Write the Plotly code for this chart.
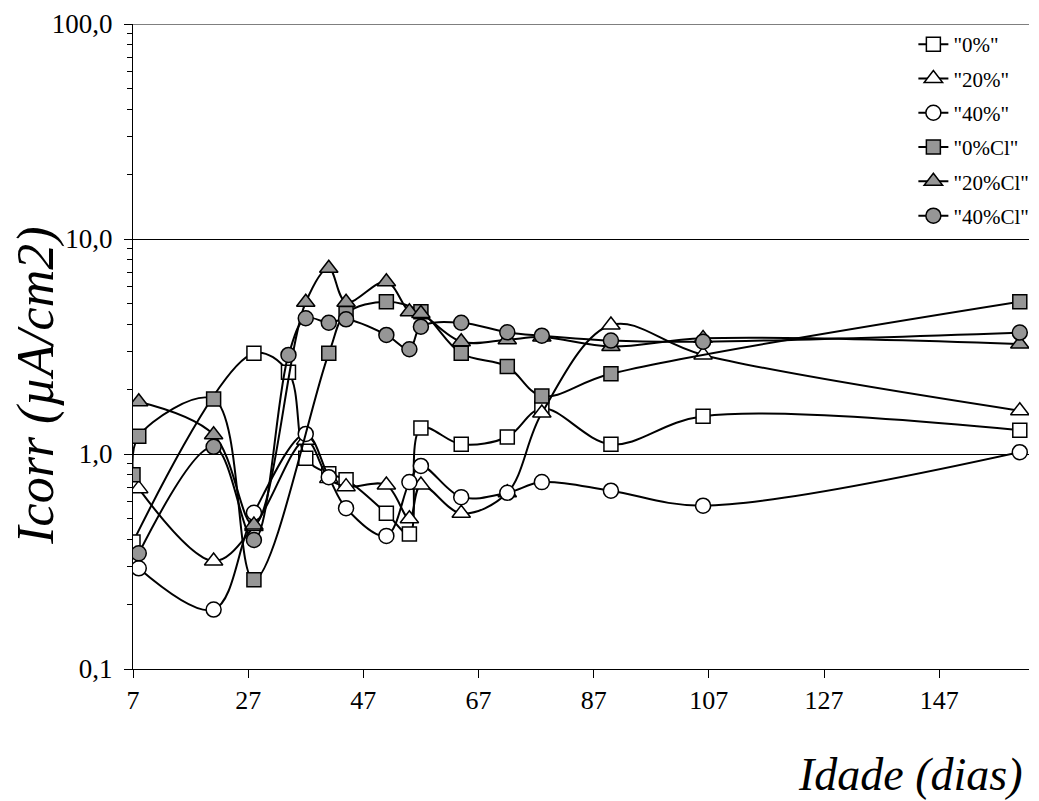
import plotly.graph_objects as go

# ---- data (Idade in days, Icorr in uA/cm2) ----
days_0 = [7, 28, 34, 37, 41, 44, 51, 55, 57, 64, 72, 78, 90, 106, 161]
icorr_0 = [0.39, 2.94, 2.40, 0.955, 0.81, 0.76, 0.53, 0.424, 1.32, 1.11, 1.20, 1.63, 1.11, 1.50, 1.29]

days_20 = [8, 21, 28, 37, 41, 44, 51, 55, 57, 64, 72, 78, 90, 106, 161]
icorr_20 = [0.69, 0.318, 0.46, 1.16, 0.77, 0.705, 0.717, 0.50, 0.717, 0.53, 0.66, 1.55, 3.98, 2.89, 1.59]

days_40 = [8, 21, 28, 37, 41, 44, 51, 55, 57, 64, 72, 78, 90, 106, 161]
icorr_40 = [0.294, 0.189, 0.533, 1.24, 0.78, 0.56, 0.416, 0.74, 0.88, 0.63, 0.66, 0.74, 0.675, 0.575, 1.02]

days_0cl = [7, 8, 21, 28, 41, 44, 51, 57, 64, 72, 78, 90, 161]
icorr_0cl = [0.80, 1.21, 1.80, 0.26, 2.94, 4.5, 5.11, 4.59, 2.94, 2.55, 1.86, 2.36, 5.11]

days_20cl = [8, 21, 28, 37, 41, 44, 51, 55, 57, 64, 72, 78, 90, 106, 161]
icorr_20cl = [1.75, 1.23, 0.467, 5.08, 7.31, 5.08, 6.33, 4.59, 4.5, 3.33, 3.40, 3.50, 3.16, 3.45, 3.25]

days_40cl = [8, 21, 28, 34, 37, 41, 44, 51, 55, 57, 64, 72, 78, 90, 106, 161]
icorr_40cl = [0.345, 1.08, 0.398, 2.89, 4.28, 4.08, 4.23, 3.58, 3.07, 3.91, 4.08, 3.68, 3.55, 3.37, 3.33, 3.67]

series_names = ['"0%"', '"20%"', '"40%"', '"0%Cl"', '"20%Cl"', '"40%Cl"']
x_ticks = [7, 27, 47, 67, 87, 107, 127, 147]
y_tickvals = [0.1, 1, 10, 100]
y_ticktext = ["0,1", "1,0", "10,0", "100,0"]
y_minor_ticks = [m * d for d in (0.1, 1, 10) for m in range(2, 10)]

FONT = "Liberation Serif, Times New Roman, serif"
GRAY = "#969696"

styles = [
    ("square", "white", 14),
    ("triangle-up", "white", 16),
    ("circle", "white", 15),
    ("square", GRAY, 14),
    ("triangle-up", GRAY, 16),
    ("circle", GRAY, 15),
]
data = [
    (days_0, icorr_0),
    (days_20, icorr_20),
    (days_40, icorr_40),
    (days_0cl, icorr_0cl),
    (days_20cl, icorr_20cl),
    (days_40cl, icorr_40cl),
]

fig = go.Figure()
for name, (xs, ys), (sym, fill, size) in zip(series_names, data, styles):
    fig.add_trace(go.Scatter(
        x=xs, y=ys, mode="lines+markers", name=name, legendgroup=name,
        line=dict(color="black", width=2, shape="spline", smoothing=1.0),
        marker=dict(symbol=sym, size=size, color=fill,
                    line=dict(color="black", width=1.5)),
    ))

# page body has an 8px margin, so the figure is sized/offset to compensate
fig.update_layout(
    width=1031, height=793,
    margin=dict(l=125, r=10, t=16, b=132, autoexpand=False),
    paper_bgcolor="white", plot_bgcolor="white",
    font=dict(family=FONT, color="black"),
    showlegend=True,
    legend=dict(
        x=1.006, xanchor="right", y=1.0, yanchor="top",
        font=dict(family=FONT, size=21, color="black"),
        bgcolor="rgba(255,255,255,0)", borderwidth=0,
        tracegroupgap=4, traceorder="grouped",
    ),
    xaxis=dict(
        range=[7, 162.6], tickmode="array", tickvals=x_ticks,
        ticktext=[str(v) for v in x_ticks],
        ticks="outside", ticklen=8, tickwidth=1, tickcolor="black",
        showline=True, linecolor="black", linewidth=1,
        showgrid=False, zeroline=False,
        tickfont=dict(family=FONT, size=26, color="black"),
        ticklabelstandoff=0,
    ),
    yaxis=dict(
        type="log", range=[-1, 2], tickmode="array",
        tickvals=y_tickvals, ticktext=y_ticktext,
        ticks="outside", ticklen=8, tickwidth=1, tickcolor="black",
        showline=True, linecolor="black", linewidth=1,
        showgrid=True, gridcolor="black", gridwidth=1,
        zeroline=False,
        tickfont=dict(family=FONT, size=27, color="black"),
        ticklabelstandoff=6,
        minor=dict(tickmode="array", tickvals=y_minor_ticks,
                   ticks="outside", ticklen=5, tickcolor="black",
                   tickwidth=1, showgrid=False),
    ),
    shapes=[
        dict(type="line", xref="paper", yref="y", x0=0, x1=1, y0=100, y1=100,
             line=dict(color="black", width=1)),
    ],
    annotations=[
        dict(text="<i>Icorr (µA/cm2)</i>", xref="paper", yref="paper",
             x=-0.1085, y=0.4388, xanchor="center", yanchor="middle",
             textangle=-90, showarrow=False,
             font=dict(family=FONT, size=52, color="black")),
        dict(text="<i>Idade (dias)</i>", xref="paper", yref="paper",
             x=0.9955, y=-0.163, xanchor="right", yanchor="middle",
             showarrow=False,
             font=dict(family=FONT, size=46, color="black")),
    ],
)

fig.write_html("out.html")
